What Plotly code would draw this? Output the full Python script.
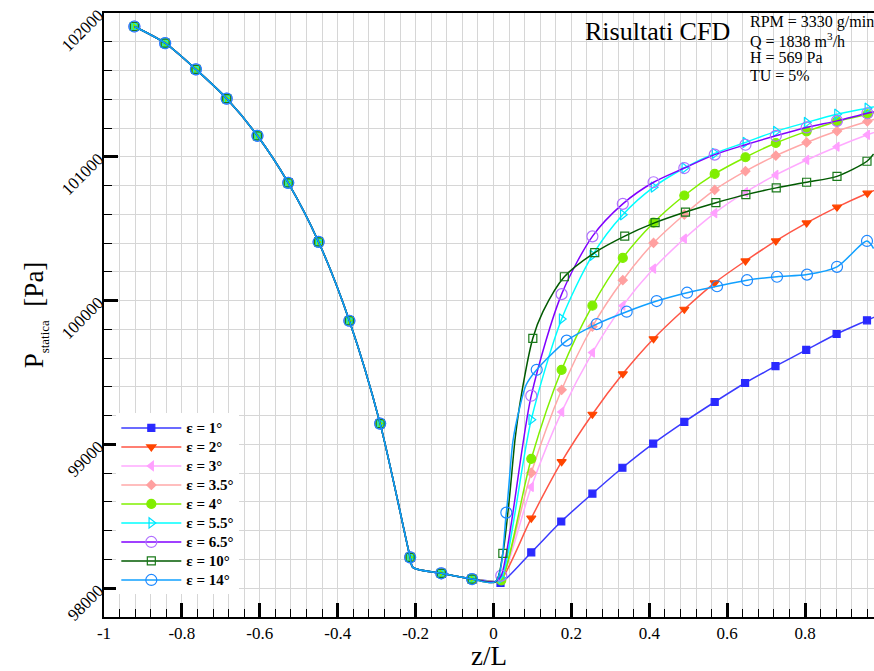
import plotly.graph_objects as go

# ---------------- data ----------------
# upstream part, common to all ε (markers)
Z_UP = [-0.922, -0.843, -0.764, -0.685, -0.606, -0.527, -0.449, -0.370, -0.291, -0.214, -0.134, -0.055]
P_UP = [101906, 101790, 101608, 101405, 101146, 100819, 100408, 99860, 99145, 98215, 98104, 98064]
# extra curve points (no marker) of the common part
Z_UP_CURVE = [-0.207, 0.005]
P_UP_CURVE = [98145, 98045]

# downstream marker abscissae
Z_DOWN = [0.020, 0.097, 0.175, 0.254, 0.332, 0.411, 0.490, 0.568, 0.647, 0.725, 0.804, 0.882, 0.960]
Z_DOWN_1 = [0.018, 0.097, 0.174, 0.254, 0.331, 0.410, 0.490, 0.568, 0.646, 0.724, 0.803, 0.881, 0.959]
Z_DOWN_10 = [0.024, 0.101, 0.182, 0.260, 0.337, 0.415, 0.493, 0.571, 0.648, 0.726, 0.804, 0.882, 0.959]
Z_DOWN_14 = [0.033, 0.111, 0.188, 0.265, 0.342, 0.419, 0.497, 0.574, 0.651, 0.728, 0.805, 0.882, 0.959]

P_E1 = [98037, 98249, 98464, 98658, 98838, 99006, 99157, 99295, 99427, 99544, 99657, 99768, 99863]
P_E2 = [98060, 98487, 98880, 99210, 99491, 99735, 99940, 100124, 100276, 100415, 100540, 100650, 100747]
P_E3 = [98060, 98704, 99226, 99639, 99965, 100223, 100431, 100609, 100754, 100874, 100978, 101070, 101153]
P_E35 = [98065, 98803, 99380, 99820, 100142, 100401, 100599, 100770, 100900, 101008, 101100, 101179, 101246]
P_E4 = [98055, 98900, 99519, 99965, 100297, 100542, 100731, 100881, 100997, 101096, 101177, 101246, 101296]
P_E55 = [98070, 99172, 99872, 100315, 100597, 100789, 100922, 101024, 101100, 101177, 101239, 101296, 101338]
P_E65 = [98088, 99339, 100045, 100447, 100673, 100823, 100922, 101015, 101084, 101146, 101204, 101250, 101303]
P_E10 = [98242, 99738, 100166, 100334, 100449, 100542, 100616, 100681, 100737, 100784, 100823, 100864, 100969]
P_E14 = [98526, 99519, 99722, 99837, 99923, 99997, 100055, 100100, 100142, 100166, 100181, 100235, 100415]

# extra curve points (no marker) for each ε, beyond / between markers
Z_CURVE_1, P_CURVE_1 = [1.0], [99912]
Z_CURVE_2, P_CURVE_2 = [1.0], [100790]
Z_CURVE_3, P_CURVE_3 = [1.0], [101190]
Z_CURVE_35, P_CURVE_35 = [1.0], [101280]
Z_CURVE_4, P_CURVE_4 = [1.0], [101320]
Z_CURVE_55, P_CURVE_55 = [1.0], [101360]
Z_CURVE_65, P_CURVE_65 = [1.0], [101325]
Z_CURVE_10, P_CURVE_10 = [0.041, 0.056, 0.072, 0.127, 0.976], [98630, 99050, 99350, 99923, 101019]
Z_CURVE_14, P_CURVE_14 = [0.050, 0.067, 0.084, 0.976], [99023, 99253, 99415, 100362]

LABELS = ["ε = 1°", "ε = 2°", "ε = 3°", "ε = 3.5°", "ε = 4°", "ε = 5.5°", "ε = 6.5°", "ε = 10°", "ε = 14°"]

X_TICKS = [-1, -0.8, -0.6, -0.4, -0.2, 0, 0.2, 0.4, 0.6, 0.8]
X_TICKTEXT = ["-1", "-0.8", "-0.6", "-0.4", "-0.2", "0", "0.2", "0.4", "0.6", "0.8"]
Y_TICKS = [98000, 99000, 100000, 101000, 102000]
Y_TICKTEXT = ["98000", "99000", "100000", "101000", "102000"]

# ---------------- styles ----------------
series = [
    (Z_DOWN_1, P_E1, Z_CURVE_1, P_CURVE_1, "#3a3aff", "square", "#2a2aff", 7),
    (Z_DOWN, P_E2, Z_CURVE_2, P_CURVE_2, "#ff5545", "triangle-down", "#ff4500", 8),
    (Z_DOWN, P_E3, Z_CURVE_3, P_CURVE_3, "#ffaaff", "triangle-left", "#ffa0ff", 8),
    (Z_DOWN, P_E35, Z_CURVE_35, P_CURVE_35, "#ffa8a8", "diamond", "#ffa0a0", 7),
    (Z_DOWN, P_E4, Z_CURVE_4, P_CURVE_4, "#80f000", "circle", "#80ee00", 9),
    (Z_DOWN, P_E55, Z_CURVE_55, P_CURVE_55, "#00ffff", "triangle-right-open", "#00e0ff", 9),
    (Z_DOWN, P_E65, Z_CURVE_65, P_CURVE_65, "#8000ff", "circle-open", "#b070ff", 11),
    (Z_DOWN_10, P_E10, Z_CURVE_10, P_CURVE_10, "#005a00", "square-open", "#1a7a1a", 8),
    (Z_DOWN_14, P_E14, Z_CURVE_14, P_CURVE_14, "#10a0ff", "circle-open", "#1e88ff", 11),
]

FONT = "Liberation Serif"
fig = go.Figure()

for label, (zd, pd_, zc, pc, lcol, sym, mcol, msz) in zip(LABELS, series):
    mz = Z_UP + zd
    mp = P_UP + pd_
    pts = sorted(zip(mz + Z_UP_CURVE + zc, mp + P_UP_CURVE + pc))
    lz = [p[0] for p in pts]
    lp = [p[1] for p in pts]
    fig.add_trace(go.Scatter(x=lz, y=lp, mode="lines", showlegend=False, hoverinfo="skip",
                             line=dict(color=lcol, width=1.5, shape="spline", smoothing=0.8)))
    fig.add_trace(go.Scatter(x=mz, y=mp, mode="markers", showlegend=False,
                             marker=dict(symbol=sym, color=mcol, size=msz, line=dict(color=mcol, width=1.2))))
    fig.add_trace(go.Scatter(x=[None], y=[None], mode="lines+markers",
                             name="<span style='font-size:15px'>" + label + "</span>",
                             line=dict(color=lcol, width=1.5),
                             marker=dict(symbol=sym, color=mcol, size=msz, line=dict(color=mcol, width=1.2))))

grid = "#d6d6d6"
fig.update_layout(
    width=874, height=671,
    margin=dict(l=104, r=0, t=13, b=51),
    paper_bgcolor="white", plot_bgcolor="white",
    font=dict(family=FONT, color="black"),
    showlegend=True,
    legend=dict(x=0.016, y=0.337, xanchor="left", yanchor="top", bgcolor="white",
                borderwidth=0, font=dict(family=FONT, size=12, weight="bold"),
                itemwidth=60, tracegroupgap=0),
    xaxis=dict(range=[-1, 0.977], tickmode="array", tickvals=X_TICKS, ticktext=X_TICKTEXT,
               ticks="inside", ticklen=14, tickwidth=3, tickcolor="black",
               showline=True, linecolor="black", linewidth=2, mirror=True,
               showgrid=True, gridcolor=grid, gridwidth=1, zeroline=False,
               tickfont=dict(family=FONT, size=17),
               minor=dict(tickmode="linear", tick0=-1, dtick=0.04, ticks="inside", ticklen=8,
                          tickwidth=1, tickcolor="black", showgrid=True, gridcolor=grid, gridwidth=1),
               title=dict(text="z/L", font=dict(family=FONT, size=27), standoff=9)),
    yaxis=dict(range=[97800, 102000], tickmode="array", tickvals=Y_TICKS, ticktext=Y_TICKTEXT,
               ticks="inside", ticklen=14, tickwidth=3, tickcolor="black", tickangle=-45,
               showline=True, linecolor="black", linewidth=2, mirror=False,
               showgrid=True, gridcolor=grid, gridwidth=1, zeroline=False,
               tickfont=dict(family=FONT, size=17),
               minor=dict(tickmode="linear", tick0=97800, dtick=200, ticks="inside", ticklen=8,
                          tickwidth=1, tickcolor="black", showgrid=True, gridcolor=grid, gridwidth=1),
               title=dict(text="P<sub><span style='font-size:13px'>statica</span></sub>  [Pa]",
                          font=dict(family=FONT, size=27), standoff=6)),
)

fig.add_annotation(text="Risultati CFD", xref="paper", yref="paper", x=(583 - 104) / 770, y=(620 - 32) / 607,
                   xanchor="left", yanchor="middle", showarrow=False, font=dict(family=FONT, size=26))
info = ["RPM = 3330 g/min", "Q = 1838 m<sup>3</sup>/h", "H = 569 Pa", "TU = 5%"]
for i, t in enumerate(info):
    fig.add_annotation(text=t, xref="paper", yref="paper", x=(748 - 104) / 770, y=(620 - (22 + 18 * i)) / 607,
                       xanchor="left", yanchor="middle", showarrow=False, font=dict(family=FONT, size=16))

fig.write_html("out.html")
